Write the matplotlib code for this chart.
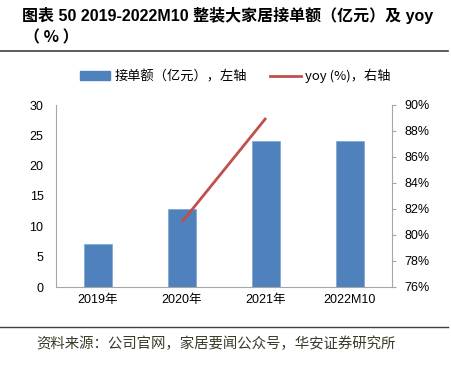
import matplotlib
matplotlib.use("Agg")
import matplotlib.pyplot as plt
from matplotlib.patches import Patch
from matplotlib.lines import Line2D
from matplotlib.ticker import FuncFormatter

plt.rcParams['font.family'] = ['Liberation Sans', 'Noto Sans CJK SC', 'DejaVu Sans']
cjk = ['Noto Sans CJK SC', 'DejaVu Sans']

# 数据
categories = ["2019年", "2020年", "2021年", "2022M10"]
orders = [7.1, 12.8, 24.0, 24.0]          # 接单额（亿元）
yoy_idx = [1, 2]                          # yoy 仅 2020、2021 有值
yoy = [81.0, 89.0]                        # %

bar_color = "#4F81BD"
line_color = "#C0504D"
spine_color = "#A6A6A6"

fig = plt.figure(figsize=(4.52, 3.67), dpi=100)
ax = fig.add_axes([56 / 452, 1 - 287 / 367, 336 / 452, 182 / 367])
ax2 = ax.twinx()

x = list(range(len(categories)))
ax.bar(x, orders, width=0.333, color=bar_color, edgecolor="#7FA3D0", linewidth=0.5, zorder=2)
ax2.plot(yoy_idx, yoy, color=line_color, linewidth=2, solid_capstyle="butt", zorder=3)

ax.set_xlim(-0.5, 3.5)
ax.set_ylim(0, 30)
ax.set_yticks(range(0, 31, 5))
ax.set_xticks(x)
ax.set_xticklabels(categories)
ax2.set_ylim(76, 90)
ax2.set_yticks(range(76, 91, 2))
ax2.yaxis.set_major_formatter(FuncFormatter(lambda v, p: f"{v:.0f}%"))

for a in (ax, ax2):
    a.spines["top"].set_visible(False)
    for s in ("left", "right", "bottom"):
        a.spines[s].set_color(spine_color)
        a.spines[s].set_linewidth(0.8)
    a.tick_params(labelsize=9, colors="#000000")
ax.spines["right"].set_visible(False)
ax2.spines["left"].set_visible(False)
ax2.spines["bottom"].set_visible(False)
ax.tick_params(axis="y", length=0, pad=9)
ax.tick_params(axis="x", length=0, pad=5)
ax2.tick_params(axis="y", length=3, width=0.8, color=spine_color, pad=6)

# 标题
fig.text(22 / 452, 1 - 16 / 367, "图表 50 2019-2022M10 整装大家居接单额（亿元）及 yoy",
         fontsize=11.5, fontweight="bold", va="center", ha="left")
fig.text(24 / 452, 1 - 37 / 367, "（ % ）", fontsize=11.5, fontweight="bold", va="center", ha="left",
         family=cjk)
fig.add_artist(Line2D([0, 448 / 452], [1 - 51 / 367] * 2, color="#404040", linewidth=1.2))

# 图例
handles = [Patch(facecolor=bar_color, edgecolor=bar_color),
           Line2D([0], [0], color=line_color, linewidth=2)]
labels = ["接单额（亿元），左轴", "yoy (%)，右轴"]
fig.legend(handles, labels, loc="center", bbox_to_anchor=(235 / 452, 1 - 76 / 367), ncol=2,
           frameon=False, prop={'family': cjk, 'size': 9.5}, handlelength=2.3, handleheight=0.6,
           columnspacing=1.8, handletextpad=0.3, borderpad=0, borderaxespad=0)

# 资料来源
fig.add_artist(Line2D([0, 448 / 452], [1 - 327 / 367] * 2, color="#404040", linewidth=1.0))
fig.text(36 / 452, 1 - 344 / 367, "资料来源：公司官网，家居要闻公众号，华安证券研究所",
         fontsize=10.4, color="#3A3A2A", va="center", ha="left", family=cjk)

fig.savefig("out.png", dpi=100)
